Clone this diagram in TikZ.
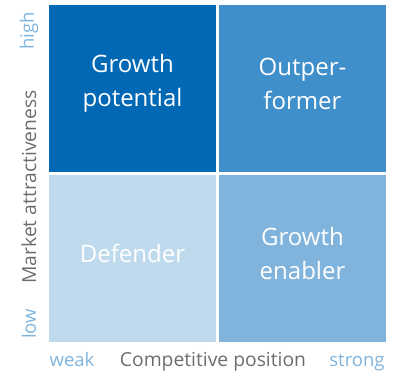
\documentclass[tikz,border=0pt]{standalone}
\usepackage{fontspec}
\setmainfont{Open Sans}
\definecolor{darkblue}{HTML}{0068B4}
\definecolor{midblue}{HTML}{3F8FCB}
\definecolor{softblue}{HTML}{80B4DC}
\definecolor{paleblue}{HTML}{C0DAED}
\definecolor{axisgray}{HTML}{6D6D6D}
\tikzset{
  cell/.style={minimum width=167pt, minimum height=167pt, inner sep=0pt},
  celltext/.style={align=center, text=white, inner sep=0pt, font=\fontsize{24}{34}\selectfont},
  axislabel/.style={text=axisgray, font=\fontsize{19.3}{20}\selectfont, inner sep=0pt},
  endlabel/.style={text=softblue, font=\fontsize{18.5}{20}\selectfont, inner sep=0pt}
}
\begin{document}
\begin{tikzpicture}[x=1pt, y=-1pt]
    \useasboundingbox (0,0) rectangle (398,373);

    % Quadranten der Matrix
    \foreach \name/\x/\y/\cor/\txt in {gp/132.5/88.5/darkblue/{Growth\\potential},
        op/302.5/88.5/midblue/{Outper-\\former},
        df/132.5/258.5/paleblue/{Defender},
        ge/302.5/258.5/softblue/{Growth\\enabler}} {
        \node[cell, fill=\cor] (\name) at (\x,\y) {};
        \node[celltext] (\name txt) at ([yshift=5pt]\name.center) {\txt};
    }

    % Achse: Marktattraktivitaet
    \node[axislabel, rotate=90] (market) at (29,187) {Market attractiveness};
    \node[endlabel, rotate=90] (high) at (29,31) {high};
    \node[endlabel, rotate=90] (low) at (29,324) {low};

    % Achse: Wettbewerbsposition
    \node[axislabel, anchor=base] (compet) at (213,366) {Competitive position};
    \node[endlabel, anchor=base] (weak) at (72,366) {weak};
    \node[endlabel, anchor=base] (strong) at (357,366) {strong};
\end{tikzpicture}
\end{document}
